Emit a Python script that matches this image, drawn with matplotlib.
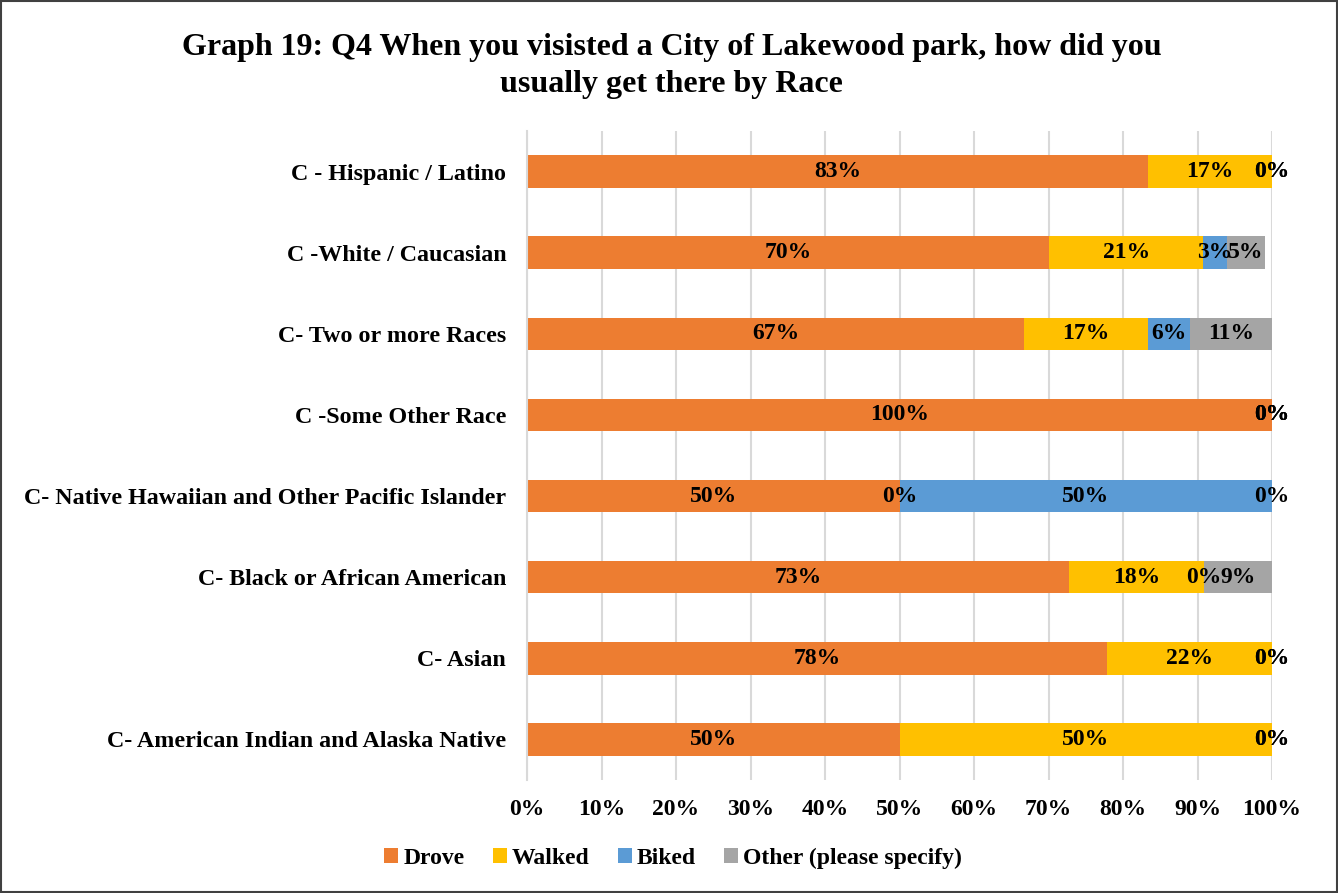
import matplotlib
matplotlib.use("Agg")
import matplotlib.pyplot as plt
from matplotlib.patches import Rectangle
import numpy as np

plt.rcParams['font.family'] = ['Liberation Serif', 'DejaVu Serif']
plt.rcParams['font.weight'] = 'bold'

categories = [
    "C- American Indian and Alaska Native",
    "C- Asian",
    "C- Black or African American",
    "C- Native Hawaiian and Other Pacific Islander",
    "C -Some Other Race",
    "C- Two or more Races",
    "C -White / Caucasian",
    "C - Hispanic / Latino",
]
series_names = ["Drove", "Walked", "Biked", "Other (please specify)"]
drove = [50.0, 77.8, 72.7, 50.0, 100.0, 66.7, 70.1, 83.3]
walked = [50.0, 22.2, 18.2, 0.0, 0.0, 16.7, 20.7, 16.7]
biked = [0.0, 0.0, 0.0, 50.0, 0.0, 5.6, 3.1, 0.0]
other = [0.0, 0.0, 9.1, 0.0, 0.0, 11.1, 5.2, 0.0]
colors = ["#ED7D31", "#FFC000", "#5B9BD5", "#A5A5A5"]
xticks = [0, 10, 20, 30, 40, 50, 60, 70, 80, 90, 100]

fig = plt.figure(figsize=(13.38, 8.93), dpi=100)
ax = fig.add_axes([0.3939, 0.1265, 0.5568, 0.7268])

y = np.arange(len(categories))
left = np.zeros(len(categories))
for name, vals, col in zip(series_names, [drove, walked, biked, other], colors):
    vals = np.array(vals)
    ax.barh(y, vals, left=left, height=0.4, color=col, label=name, zorder=2)
    for yi, l, v in zip(y, left, vals):
        ax.text(l + v / 2, yi, f"{v:.0f}%", ha='center', va='center',
                fontsize=17, fontweight='bold', color='black', zorder=3)
    left = left + vals

ax.set_xlim(0, 100)
ax.set_ylim(-0.5, len(categories) - 0.5)
ax.set_xticks(xticks)
ax.set_xticklabels([f"{t}%" for t in xticks], fontsize=17, fontweight='bold')
ax.set_yticks(y)
ax.set_yticklabels(categories, fontsize=17.3, fontweight='bold')
ax.tick_params(axis='both', length=0)
ax.tick_params(axis='y', pad=15)
ax.tick_params(axis='x', pad=14)
ax.grid(axis='x', color='#D9D9D9', linewidth=1.5, zorder=0)
for s in ['top', 'right', 'bottom']:
    ax.spines[s].set_visible(False)
ax.spines['left'].set_color('#D9D9D9')
ax.spines['left'].set_linewidth(1.5)

fig.suptitle("Graph 19: Q4 When you visisted a City of Lakewood park, how did you\nusually get there by Race",
             x=0.502, y=0.963, fontsize=23, fontweight='bold', linespacing=1.35)

leg = fig.legend(loc='center', bbox_to_anchor=(0.503, 0.039), ncol=4, frameon=False,
                 handlelength=0.6, handleheight=0.6, handletextpad=0.2,
                 columnspacing=1.2, prop={'weight': 'bold', 'size': 17})

fig.patches.append(Rectangle((0.001, 0.001), 0.998, 0.998, transform=fig.transFigure,
                             fill=False, edgecolor='#404040', linewidth=1.5))

fig.savefig("out.png", dpi=100)
